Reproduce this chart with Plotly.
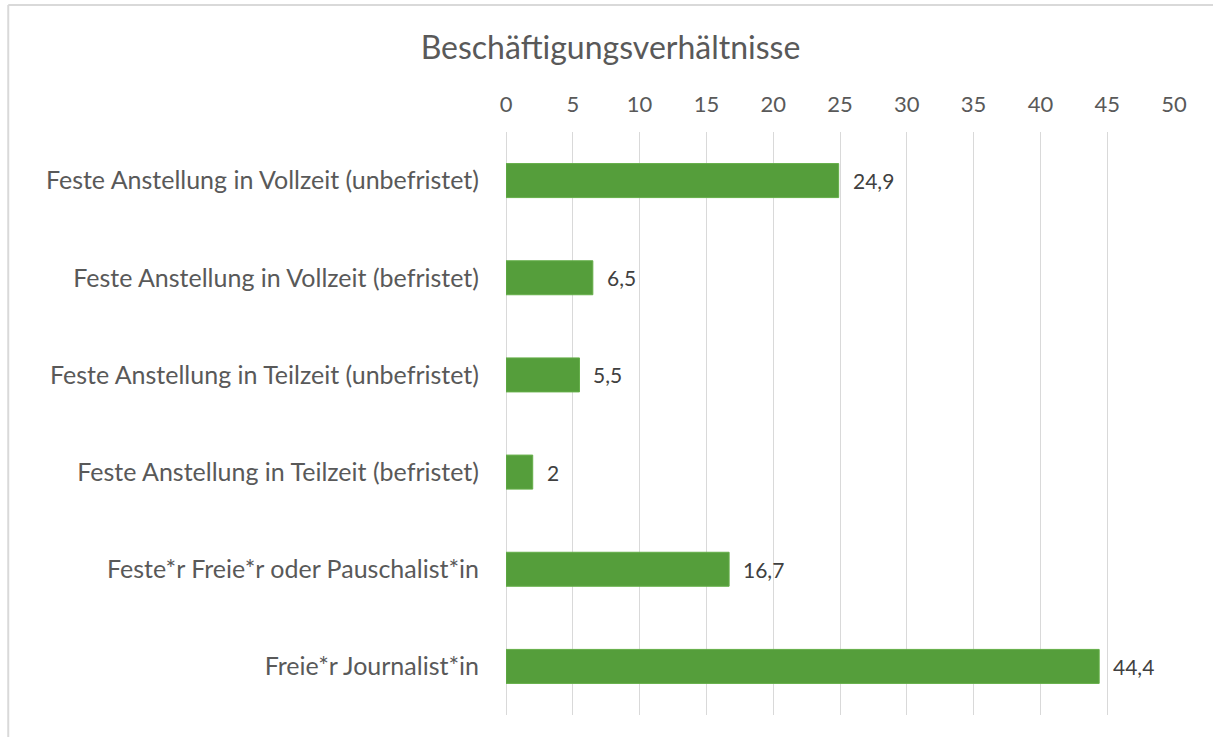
import plotly.graph_objects as go

categories = [
    "Feste Anstellung in Vollzeit (unbefristet)",
    "Feste Anstellung in Vollzeit (befristet)",
    "Feste Anstellung in Teilzeit (unbefristet)",
    "Feste Anstellung in Teilzeit (befristet)",
    "Feste*r Freie*r oder Pauschalist*in",
    "Freie*r Journalist*in",
]
values = [24.9, 6.5, 5.5, 2, 16.7, 44.4]
tick_values = [0, 5, 10, 15, 20, 25, 30, 35, 40, 45, 50]
title_text = "Beschäftigungsverhältnisse"

FONT = "Lato, 'Open Sans', sans-serif"
GREY = "#595959"

def fmt(v):
    s = ("%g" % v)
    return s.replace(".", ",")

fig = go.Figure()
fig.add_trace(go.Bar(
    x=values, y=categories, orientation="h",
    marker=dict(color="#559E3B", line=dict(color="#64AE48", width=1)),
    hoverinfo="skip",
))

for c, v in zip(categories, values):
    fig.add_annotation(x=v, y=c, xref="x", yref="y", text=fmt(v),
                       showarrow=False, xanchor="left", yanchor="middle",
                       xshift=12, font=dict(family=FONT, size=21, color="#404040"))

W, H = 1213, 737
L, R, T, B = 505.5, 38.5, 132, 22
pw, ph = W - L - R, H - T - B

def px_x(p):
    return (p - L) / pw

def px_y(p):
    return (H - B - p) / ph

frame = dict(color="#d9d9d9", width=2)
fig.add_shape(type="line", xref="paper", yref="paper",
              x0=px_x(7), x1=px_x(7), y0=px_y(745), y1=px_y(5), line=frame)
fig.add_shape(type="line", xref="paper", yref="paper",
              x0=px_x(7), x1=px_x(1220), y0=px_y(5), y1=px_y(5), line=frame)

fig.update_layout(
    width=W, height=H,
    margin=dict(l=L, r=R, t=T, b=B, autoexpand=False),
    paper_bgcolor="white", plot_bgcolor="white",
    bargap=0.65,
    showlegend=False,
    title=dict(text=title_text, x=610.5 / W, xanchor="center",
               y=1 - 48 / H, yanchor="middle", yref="container",
               font=dict(family=FONT, size=32, color=GREY)),
    xaxis=dict(side="top", range=[0, 50], tickvals=tick_values,
               showgrid=True, gridcolor="#d9d9d9", gridwidth=1.3,
               zeroline=True, zerolinecolor="#d9d9d9", zerolinewidth=1.3,
               showline=False, ticks="",
               ticklabelstandoff=15,
               tickfont=dict(family=FONT, size=22, color=GREY)),
    yaxis=dict(autorange="reversed", showgrid=False, showline=False,
               zeroline=False, ticks="", ticklabelstandoff=26,
               tickfont=dict(family=FONT, size=25, color=GREY)),
)

fig.write_html("out.html", config={"displayModeBar": False},
               post_script="document.body.style.margin='0';")
